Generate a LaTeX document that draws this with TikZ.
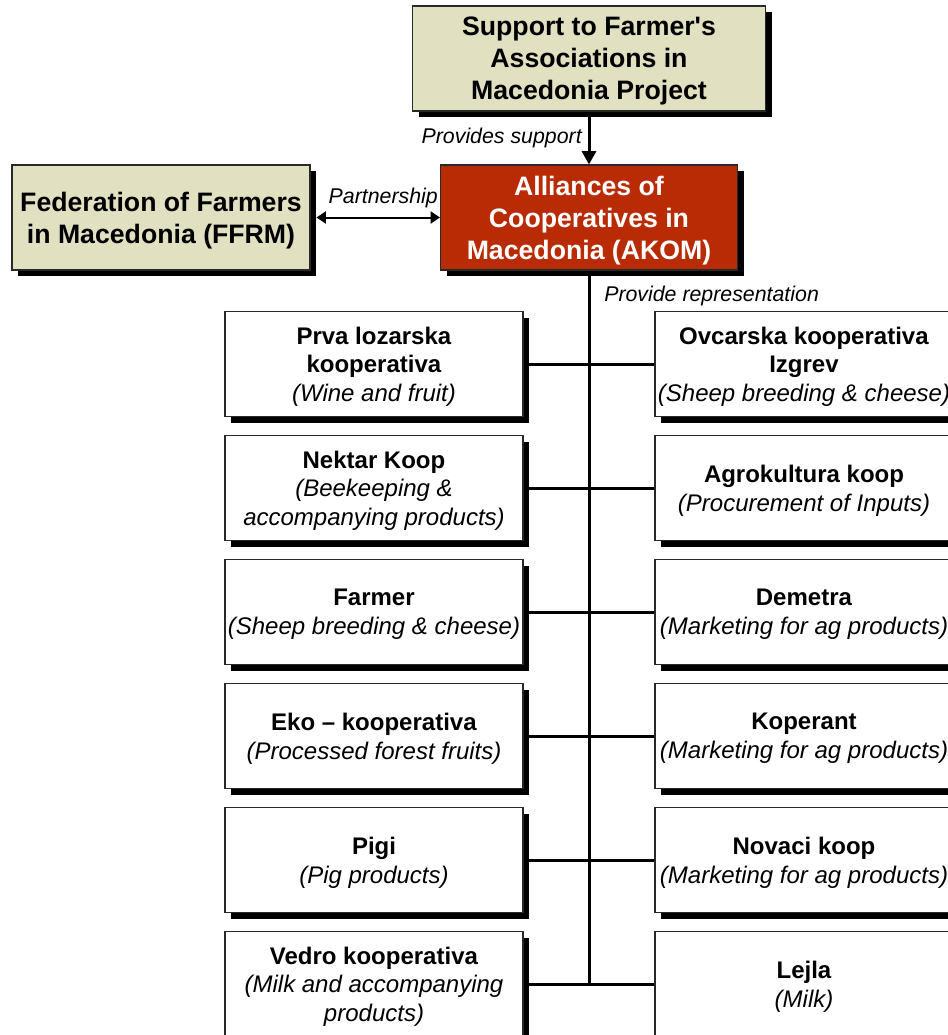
\documentclass[tikz,border=0pt]{standalone}
\usepackage{fontspec}
\setmainfont{Liberation Sans}
\usetikzlibrary{arrows.meta,positioning,shadows,backgrounds}
\definecolor{khaki}{RGB}{225,224,193}
\definecolor{rust}{RGB}{185,43,4}
\definecolor{ink}{RGB}{40,40,40}
\tikzset{
  boxshadow/.style={drop shadow={fill=black,opacity=1,shadow xshift=4.5pt,shadow yshift=-4.5pt}},
  head/.style={draw=ink,line width=0.8pt,fill=#1,align=center,minimum height=78.75pt,text depth=-2pt,
    font=\fontsize{20}{24}\selectfont\bfseries,boxshadow},
  head/.default=khaki,
  coop/.style={draw=ink,line width=0.8pt,fill=white,align=center,inner xsep=0pt,text depth=-2pt,
    minimum width=223.5pt,minimum height=78.75pt,font=\fontsize{18}{21.5}\selectfont,boxshadow},
  lbl/.style={font=\fontsize{16}{19}\selectfont\itshape},
  link/.style={line width=2.25pt},
  arr/.style={-{Triangle[length=10pt,width=10.5pt]},line width=2.25pt},
}

\begin{document}
\begin{tikzpicture}[x=0.75pt,y=-0.75pt]
  \useasboundingbox (0,0) rectangle (947,1035);

  \node[head,minimum width=264.75pt] (sfam) at (589,58.5) {Support to Farmer\textquotesingle s\\Associations in\\Macedonia Project};
  \node[head=rust,text=white,minimum width=222.75pt] (akom) at (589,217.5) {Alliances of\\Cooperatives in\\Macedonia (AKOM)};
  \node[head,minimum width=223.5pt] (ffrm) at (161,217.5) {Federation of Farmers\\in Macedonia (FFRM)};

  \draw[arr] (sfam.south) -- node[lbl,left=1pt]{Provides support} (akom.north);
  \draw[{Triangle[length=7pt,width=9pt]}-{Triangle[length=7pt,width=9pt]},line width=1.5pt,shorten <=4.5pt]
    (ffrm.east) -- node[lbl,above=3pt,xshift=6pt]{Partnership} (akom.west);

  % member cooperatives, left / right
  \foreach \l/\r [count=\i from 0] in {
    {\textbf{Prva lozarska}\\\textbf{kooperativa}\\\textit{(Wine and fruit)}}/{\textbf{Ovcarska kooperativa}\\\textbf{Izgrev}\\\textit{(Sheep breeding \& cheese)}},
    {\textbf{Nektar Koop}\\\textit{(Beekeeping \&}\\\textit{accompanying products)}}/{\textbf{Agrokultura koop}\\\textit{(Procurement of Inputs)}},
    {\textbf{Farmer}\\\textit{(Sheep breeding \& cheese)}}/{\textbf{Demetra}\\\textit{(Marketing for ag products)}},
    {\textbf{Eko -- kooperativa}\\\textit{(Processed forest fruits)}}/{\textbf{Koperant}\\\textit{(Marketing for ag products)}},
    {\textbf{Pigi}\\\textit{(Pig products)}}/{\textbf{Novaci koop}\\\textit{(Marketing for ag products)}},
    {\textbf{Vedro kooperativa}\\\textit{(Milk and accompanying}\\\textit{products)}}/{\textbf{Lejla}\\\textit{(Milk)}}}{
    \node[coop] (l\i) at (374,364+124*\i) {\l};
    \node[coop] (r\i) at (804,364+124*\i) {\r};
  }

  \begin{scope}[on background layer]
    \draw[link] (akom.south) -- node[lbl,pos=0.035,right=7pt]{Provide representation} (akom.south |- l5.east);
    \foreach \i in {0,...,5} \draw[link] (l\i.east) -- (r\i.west);
  \end{scope}
\end{tikzpicture}
\end{document}
